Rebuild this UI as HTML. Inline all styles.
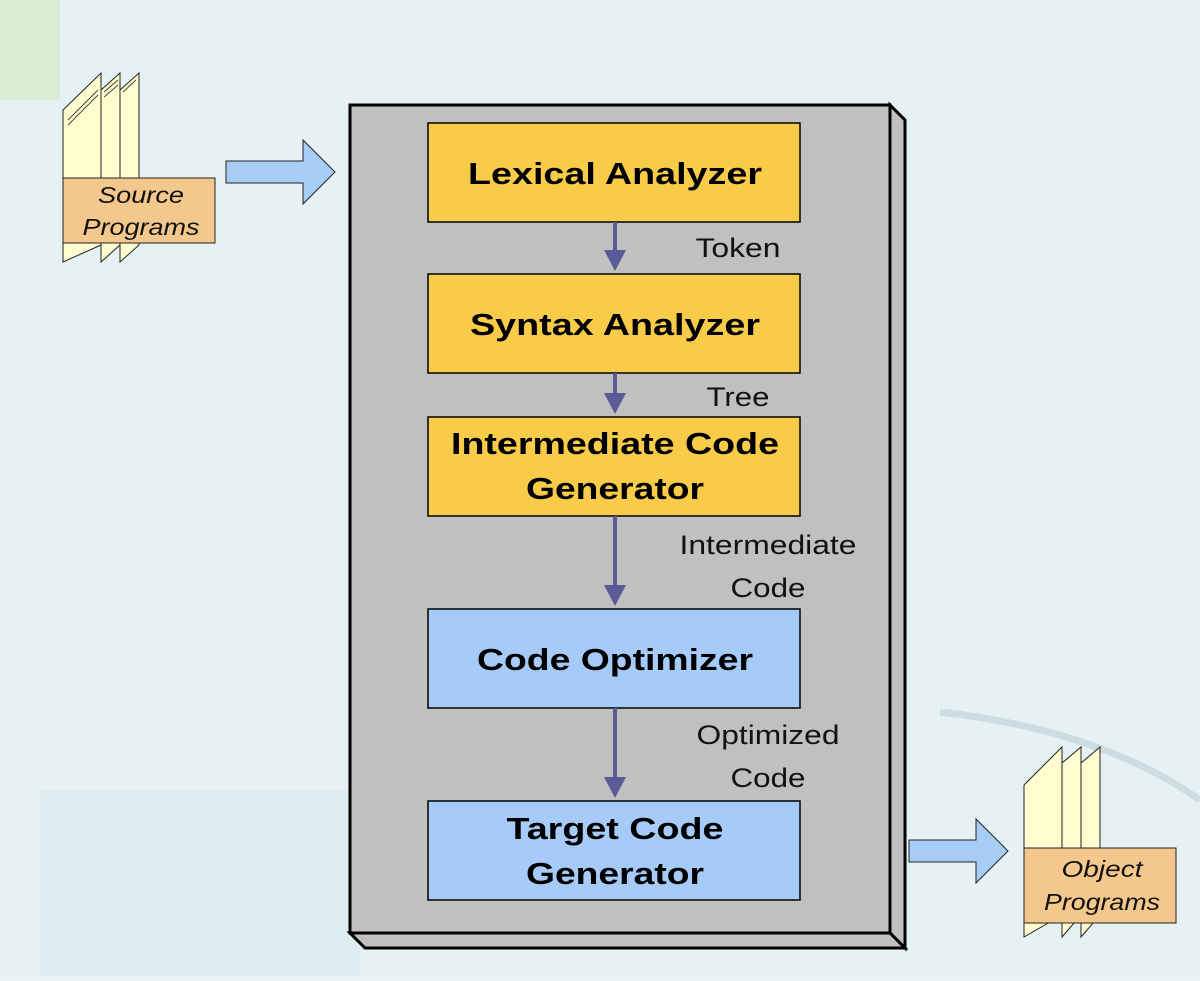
<!DOCTYPE html>
<html><head><style>
body{margin:0;width:1200px;height:976px;overflow:hidden;background:#e6f2f4;font-family:"Liberation Sans",sans-serif;}
</style></head><body>
<svg width="1200" height="976" xmlns="http://www.w3.org/2000/svg" font-family="Liberation Sans, sans-serif">
<rect width="1200" height="976" fill="#e5f1f3"/>
<rect x="0" y="0" width="60" height="100" fill="#d8edd2"/>
<rect x="40" y="790" width="320" height="186" fill="#dcecef"/>
<path d="M940 712 Q1100 730 1200 800" stroke="#cbdce2" stroke-width="7" fill="none"/>
<!-- source docs -->
<g stroke="#222" stroke-width="1" fill="#fffccf">
<polygon points="120,90 139,73 139,245 120,262"/>
<polygon points="101,90 120,73 120,245 101,262"/>
<polygon points="63,110 101,73 101,245 63,262"/>
</g>
<g stroke="#444" stroke-width="1"><line x1="68" y1="120" x2="98" y2="90"/><line x1="68" y1="125" x2="98" y2="95"/><line x1="104" y1="92" x2="118" y2="80"/><line x1="104" y1="97" x2="118" y2="85"/><line x1="123" y1="92" x2="136" y2="80"/></g>
<rect x="63" y="178" width="152" height="65" fill="#f4c88c" stroke="#222"/>
<g font-size="23" font-style="italic" text-anchor="middle" fill="#111" lengthAdjust="spacingAndGlyphs">
<text x="141" y="203" textLength="86" lengthAdjust="spacingAndGlyphs">Source</text>
<text x="141" y="235" textLength="117" lengthAdjust="spacingAndGlyphs">Programs</text>
</g>
<polygon points="226,161 303,161 303,140 335,172 303,204 303,183 226,183" fill="#a7ccf5" stroke="#222"/>
<!-- panel -->
<polygon points="890,105 905,120 905,948 890,933" fill="#c0c0c0" stroke="#000" stroke-width="3"/>
<polygon points="350,933 890,933 905,948 365,948" fill="#c0c0c0" stroke="#000" stroke-width="3"/>
<rect x="350" y="105" width="540" height="828" fill="#c0c0c0" stroke="#000" stroke-width="3"/>
<g stroke="#000" stroke-width="1.5">
<rect x="428" y="123" width="372" height="99" fill="#f8cc48"/>
<rect x="428" y="274" width="372" height="99" fill="#f8cc48"/>
<rect x="428" y="417" width="372" height="99" fill="#f8cc48"/>
<rect x="428" y="609" width="372" height="99" fill="#a6cbf8"/>
<rect x="428" y="801" width="372" height="99" fill="#a6cbf8"/>
</g>
<g font-size="31" font-weight="bold" text-anchor="middle" fill="#000">
<text x="615" y="184" textLength="294" lengthAdjust="spacingAndGlyphs">Lexical Analyzer</text>
<text x="615" y="335" textLength="290" lengthAdjust="spacingAndGlyphs">Syntax Analyzer</text>
<text x="615" y="454" textLength="328" lengthAdjust="spacingAndGlyphs">Intermediate Code</text>
<text x="615" y="499" textLength="178" lengthAdjust="spacingAndGlyphs">Generator</text>
<text x="615" y="670" textLength="276" lengthAdjust="spacingAndGlyphs">Code Optimizer</text>
<text x="615" y="839" textLength="217" lengthAdjust="spacingAndGlyphs">Target Code</text>
<text x="615" y="884" textLength="178" lengthAdjust="spacingAndGlyphs">Generator</text>
</g>
<g stroke="#5a5a96" stroke-width="4" fill="#5a5a96">
<line x1="615" y1="222" x2="615" y2="255"/><polygon points="604,250 626,250 615,271" stroke="none"/>
<line x1="615" y1="373" x2="615" y2="398"/><polygon points="604,393 626,393 615,414" stroke="none"/>
<line x1="615" y1="516" x2="615" y2="590"/><polygon points="604,585 626,585 615,606" stroke="none"/>
<line x1="615" y1="708" x2="615" y2="782"/><polygon points="604,777 626,777 615,798" stroke="none"/>
</g>
<g font-size="27" text-anchor="middle" fill="#111">
<text x="738" y="257" textLength="85" lengthAdjust="spacingAndGlyphs">Token</text>
<text x="738" y="406" textLength="63" lengthAdjust="spacingAndGlyphs">Tree</text>
<text x="768" y="554" textLength="177" lengthAdjust="spacingAndGlyphs">Intermediate</text>
<text x="768" y="597" textLength="75" lengthAdjust="spacingAndGlyphs">Code</text>
<text x="768" y="744" textLength="143" lengthAdjust="spacingAndGlyphs">Optimized</text>
<text x="768" y="787" textLength="75" lengthAdjust="spacingAndGlyphs">Code</text>
</g>
<!-- output arrow -->
<polygon points="909,840 976,840 976,819 1008,851 976,883 976,862 909,862" fill="#a7ccf5" stroke="#222"/>
<g stroke="#222" stroke-width="1" fill="#fffccf">
<polygon points="1081,763 1100,747 1100,915 1081,937"/>
<polygon points="1062,763 1081,747 1081,915 1062,937"/>
<polygon points="1024,785 1062,747 1062,915 1024,937"/>
</g>
<rect x="1024" y="848" width="152" height="75" fill="#f4c88c" stroke="#222"/>
<text x="1102" y="877" font-size="23" font-style="italic" text-anchor="middle" fill="#111" textLength="81" lengthAdjust="spacingAndGlyphs">Object</text>
<text x="1102" y="910" font-size="23" font-style="italic" text-anchor="middle" fill="#111" textLength="116" lengthAdjust="spacingAndGlyphs">Programs</text>
</svg>
</body></html>
